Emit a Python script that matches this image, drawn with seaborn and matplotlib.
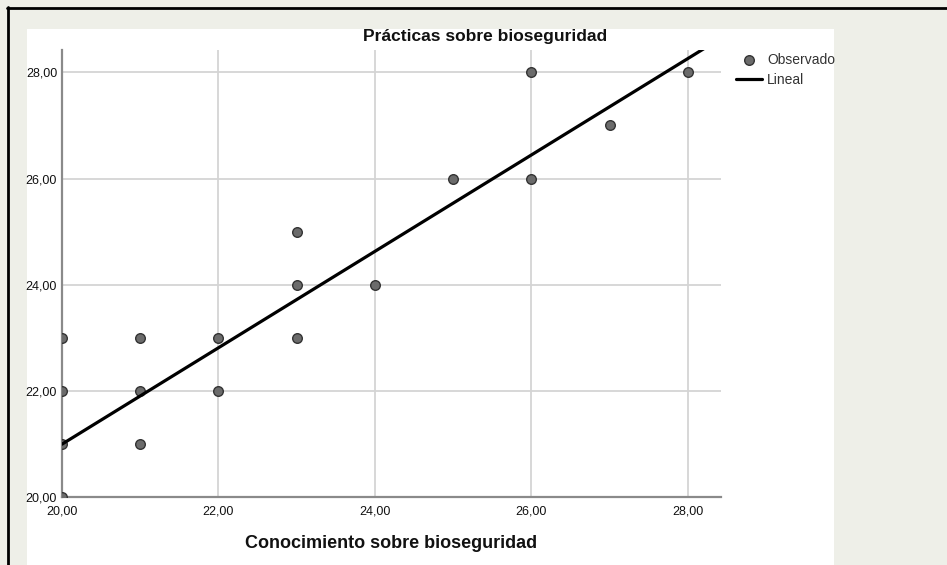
import matplotlib
matplotlib.use("Agg")
import matplotlib.pyplot as plt
from matplotlib.patches import Rectangle
from matplotlib.lines import Line2D
import seaborn as sns

# ---- data ----
conocimiento = [20, 20, 20, 20, 21, 21, 21, 22, 22, 23, 23, 23, 24, 25, 26, 26, 27, 28]
practicas    = [20, 21, 22, 23, 21, 22, 23, 22, 23, 23, 24, 25, 24, 26, 26, 28, 27, 28]
fit_x = [20.0, 28.42]
fit_y = [21.0, 28.64]
ticks = [20, 22, 24, 26, 28]
tick_labels = ["20,00", "22,00", "24,00", "26,00", "28,00"]
title = "Prácticas sobre bioseguridad"
xlabel = "Conocimiento sobre bioseguridad"
series_names = ["Observado", "Lineal"]

sns.set_theme(style="white")
plt.rcParams["font.family"] = ["Liberation Sans", "DejaVu Sans"]

W, H = 947, 565
fig = plt.figure(figsize=(W / 100, H / 100), dpi=100)
fig.patch.set_facecolor("#eeefe8")

# white chart area and black frame
fig.add_artist(Rectangle((27 / W, 0), (834 - 27) / W, 1 - 29 / H,
                         transform=fig.transFigure, facecolor="white",
                         edgecolor="none", zorder=-5))
fig.add_artist(Line2D([7 / W, 1], [1 - 7.5 / H, 1 - 7.5 / H],
                      transform=fig.transFigure, color="black", lw=2))
fig.add_artist(Line2D([8 / W, 8 / W], [0, 1 - 7 / H],
                      transform=fig.transFigure, color="black", lw=2))

ax = fig.add_axes([62 / W, 1 - 497.3 / H, (720.7 - 62) / W, (497.3 - 50) / H])
ax.set_facecolor("white")

sns.scatterplot(x=conocimiento, y=practicas, ax=ax, s=48, color="#6b6b6b",
                edgecolor="#333333", linewidth=1.0, label=series_names[0], zorder=3)
sns.lineplot(x=fit_x, y=fit_y, ax=ax, color="black", linewidth=2.3,
             label=series_names[1], zorder=4)

ax.set_xlim(20, 28.42)
ax.set_ylim(20, 28.42)
ax.set_xticks(ticks)
ax.set_xticklabels(tick_labels)
ax.set_yticks(ticks)
ax.set_yticklabels(tick_labels)
ax.tick_params(axis="both", length=0, labelsize=9, colors="#111111")
ax.tick_params(axis="x", pad=6)
ax.tick_params(axis="y", pad=3.5)
ax.grid(True, color="#d4d4d4", linewidth=1.3, zorder=0)
ax.set_axisbelow(True)
for side in ["top", "right"]:
    ax.spines[side].set_visible(False)
for side in ["left", "bottom"]:
    ax.spines[side].set_color("#8a8a8a")
    ax.spines[side].set_linewidth(1.6)

ax.set_xlabel(xlabel, fontsize=13, fontweight="bold", color="#111111")
ax.xaxis.set_label_coords(0.5, -(543 - 497.3) / (497.3 - 50))
ax.xaxis.label.set_va("center")

fig.text(485 / W, 1 - 37 / H, title, ha="center", va="center",
         fontsize=12.5, fontweight="bold", color="#111111")

leg = ax.legend(loc="upper left", bbox_to_anchor=(736 / W, 1 - 53 / H),
                bbox_transform=fig.transFigure, frameon=False, fontsize=10,
                handlelength=1.9, handletextpad=0.35, labelspacing=0.45,
                borderpad=0, borderaxespad=0)
for t in leg.get_texts():
    t.set_color("#333333")

fig.savefig("out.png", dpi=100, facecolor=fig.get_facecolor())
